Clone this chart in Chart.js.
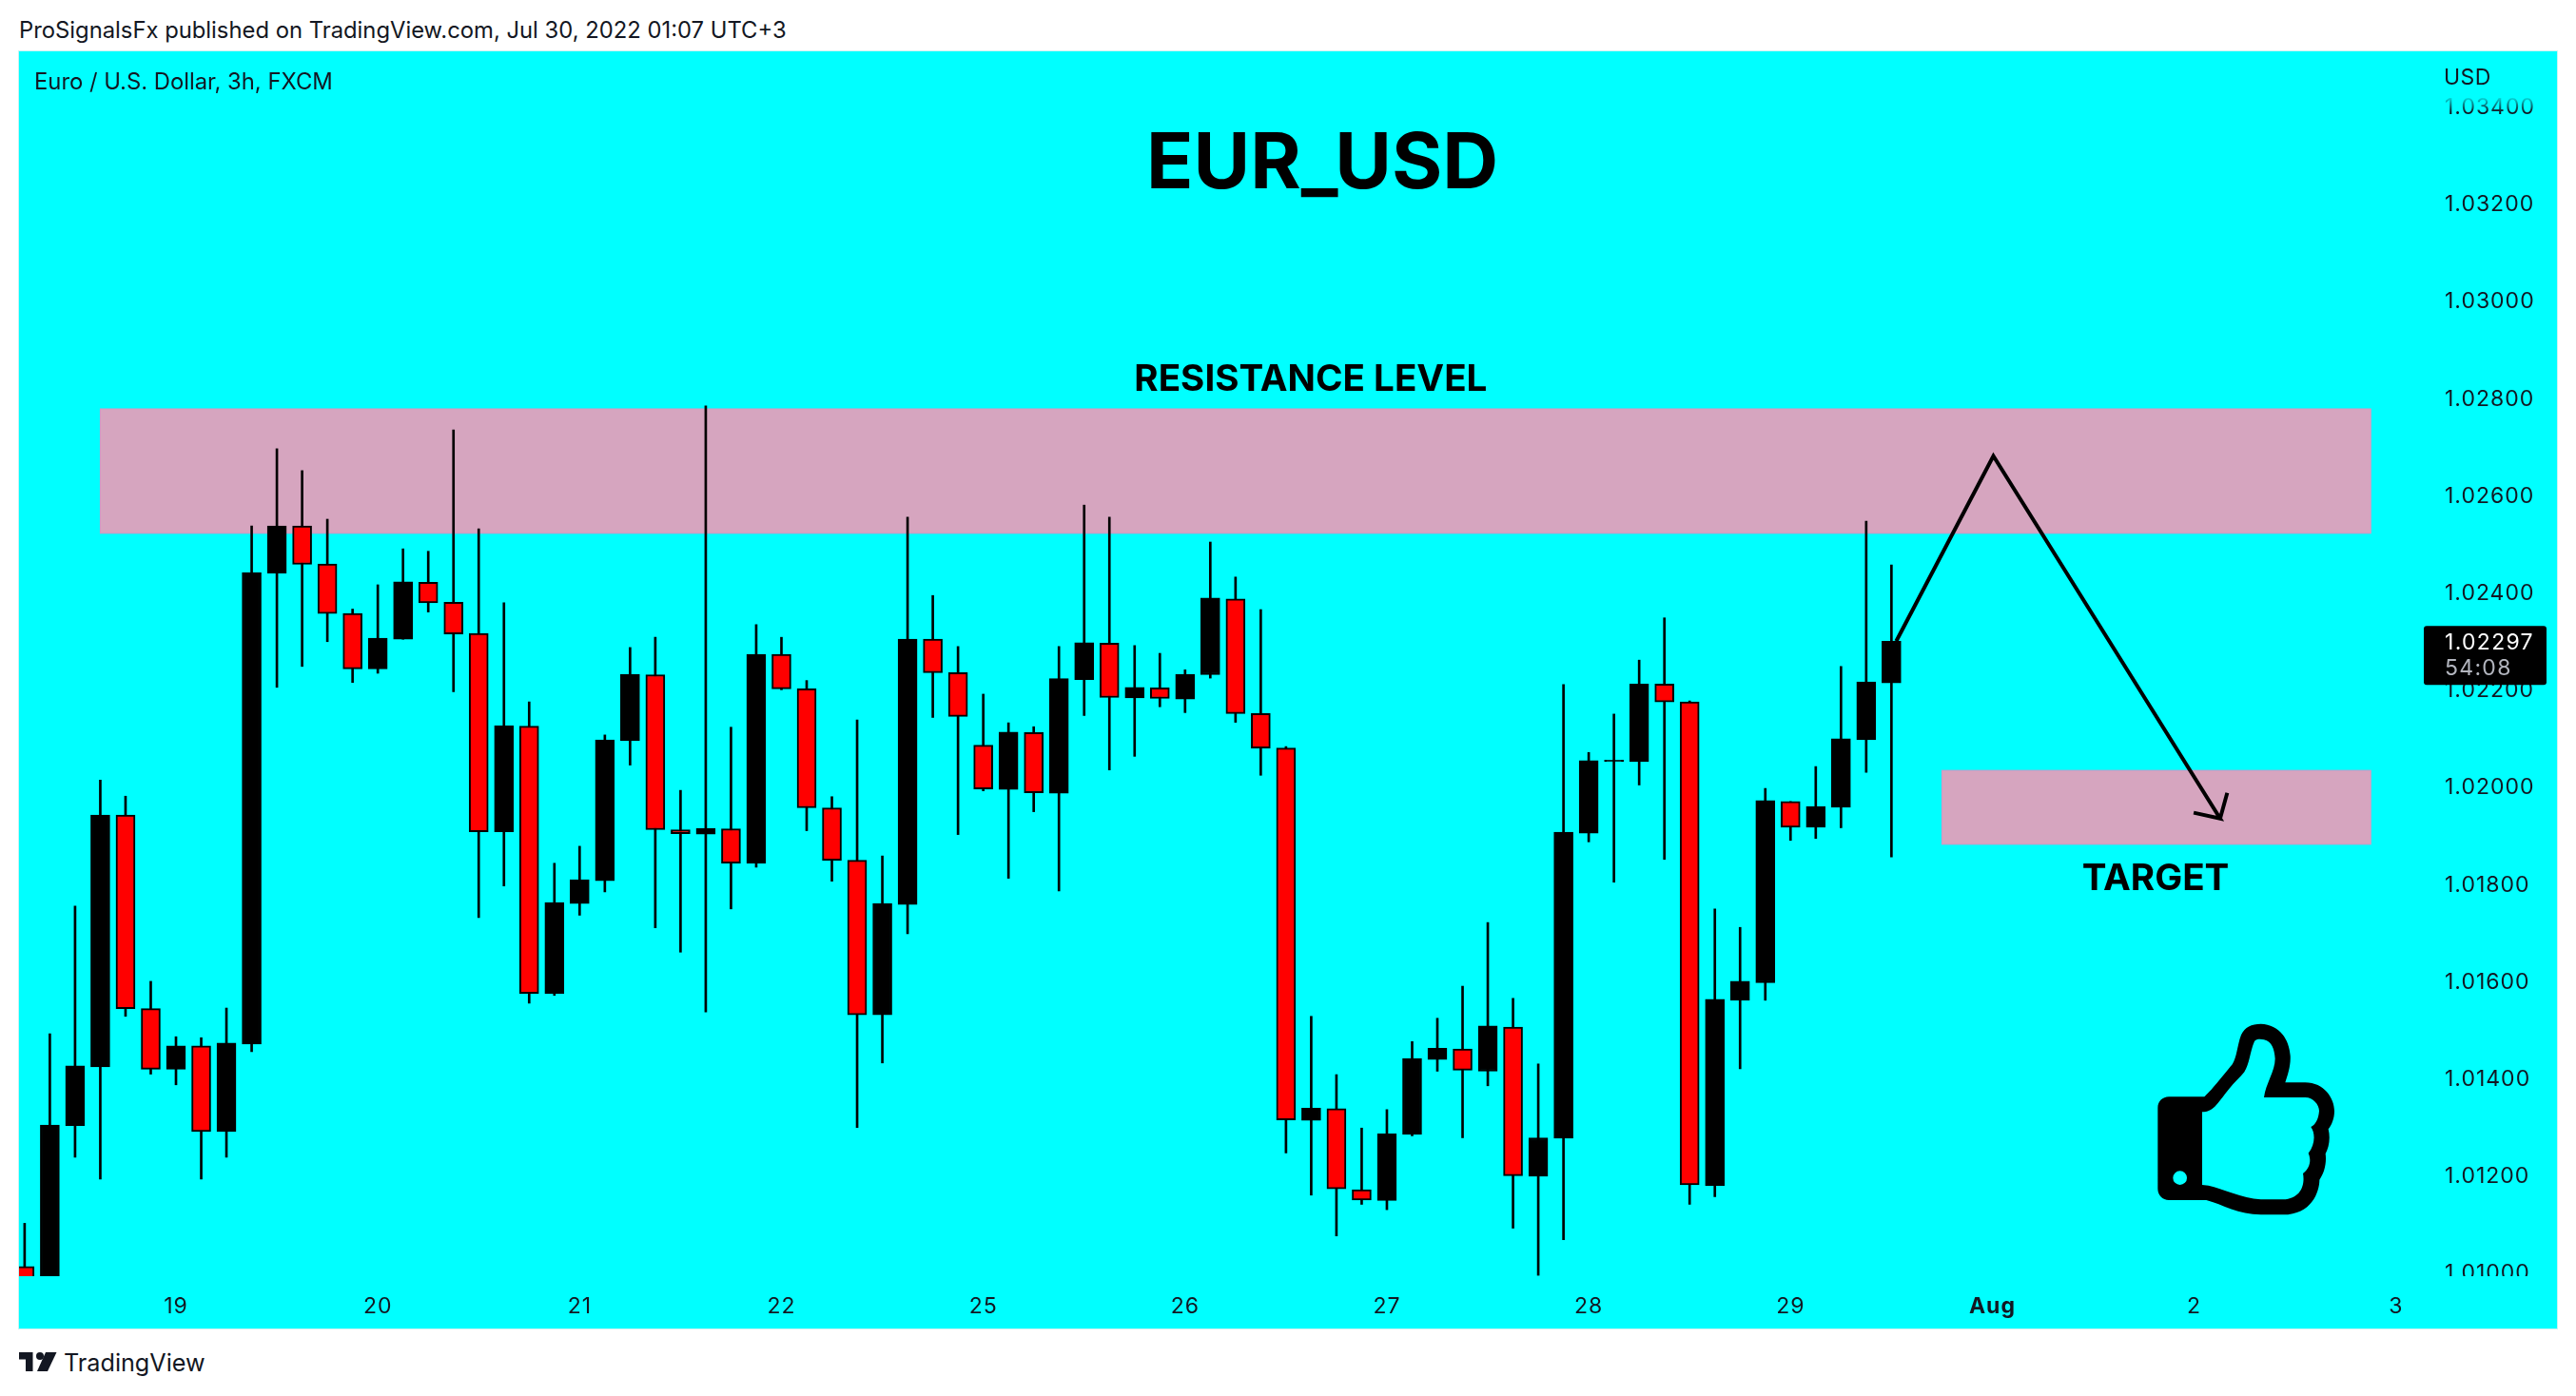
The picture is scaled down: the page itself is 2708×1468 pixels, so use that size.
<!DOCTYPE html>
<html>
<head>
<meta charset="utf-8">
<title>EUR_USD</title>
<script src="https://cdn.jsdelivr.net/npm/chart.js@4/dist/chart.umd.min.js"></script>
<style>
  html, body { margin: 0; padding: 0; background: #fff; }
  body { width: 2708px; height: 1468px; overflow: hidden; position: relative; font-family: 'Inter', sans-serif; color: #131722; }
  #chartCanvas { position: absolute; left: 20px; top: 54px; outline: 1px solid #c9f3f3; }
  .txt { position: absolute; white-space: nowrap; line-height: 1; transform: translateY(-50%); }
  svg { position: absolute; }
</style>
</head>
<body>
<div class="txt" style="left:20px;top:32px;font-size:23.8px">ProSignalsFx published on TradingView.com, Jul 30, 2022 01:07 UTC+3</div>
<canvas id="chartCanvas" width="2668" height="1343"></canvas>
<div class="txt" style="left:36px;top:86px;font-size:23.8px">Euro / U.S. Dollar, 3h, FXCM</div>
<div class="txt" style="left:2569px;top:81px;font-size:23px;letter-spacing:0.5px">USD</div>

<!-- thumbs up -->
<svg style="left:2230px;top:1050px" width="260" height="260" viewBox="0 0 780 780">
  <path fill="#000" fill-rule="evenodd" d="M150 310 L262 310 C280 295 320 245 350 208 C365 185 365 150 378 115 C390 90 410 80 440 80 C500 82 530 130 533 180 C535 210 525 240 517 265 L580 265 C640 265 672 315 672 355 C672 380 663 400 653 412 C660 440 655 470 644 490 C648 520 640 550 625 572 C625 610 600 682 510 682 L440 682 C370 682 320 650 268 636 L150 636 C130 636 115 620 115 600 L115 345 C115 325 130 310 150 310 Z
  M255 358 C290 358 300 335 340 285 C355 265 375 250 388 232 C405 205 405 170 420 135 C425 127 440 127 450 130 C475 135 483 160 485 190 C485 230 455 270 450 312 L580 312 C605 312 624 335 624 355 C622 380 612 400 598 405 C612 425 612 460 590 488 C600 510 595 535 573 552 C580 590 565 632 510 634 L440 634 C380 630 320 600 275 590 L255 588 Z
  M163 566 A22 22 0 1 0 207 566 A22 22 0 1 0 163 566 Z"/>
</svg>

<!-- footer logo -->
<svg style="left:20px;top:1421px" width="40" height="22" viewBox="0 0 40 22">
  <path fill="#131722" d="M0 1 H14.5 V21 H7 V8.5 H0 Z"/>
  <circle cx="22" cy="5" r="4" fill="#131722"/>
  <path fill="#131722" d="M28 1 H39.5 L30 21 H19 Z"/>
</svg>
<div class="txt" style="left:67px;top:1434px;font-size:25.2px">TradingView</div>

<script>
// 3h bars, weekend gap removed. Bar 0 is the first bar of the 19th
const firstBar = -6;
const opens = [1.01010, 1.00975, 1.01300, 1.01421, 1.01939, 1.01541, 1.01416, 1.01464, 1.01288, 1.01468,
  1.02437, 1.02534, 1.02456, 1.02354, 1.02240, 1.02301, 1.02418, 1.02377, 1.02313, 1.01905,
  1.02122, 1.01572, 1.01757, 1.01804, 1.02092, 1.02228, 1.01909, 1.01900, 1.01911, 1.01840,
  1.02270, 1.02199, 1.01954, 1.01846, 1.01528, 1.01755, 1.02301, 1.02232, 1.02083, 1.01992,
  1.02109, 1.01984, 1.02218, 1.02293, 1.02180, 1.02201, 1.02178, 1.02228, 1.02384, 1.02148,
  1.02077, 1.01311, 1.01335, 1.01168, 1.01146, 1.01282, 1.01436, 1.01458, 1.01412, 1.01503,
  1.01196, 1.01274, 1.01902, 1.02049, 1.02049, 1.02209, 1.02172, 1.01177, 1.01558, 1.01594,
  1.01967, 1.01914, 1.01955, 1.02094, 1.02211];
const highs = [1.01099, 1.01489, 1.01752, 1.02011, 1.01978, 1.01597, 1.01483, 1.01481, 1.01542, 1.02534,
  1.02693, 1.02648, 1.02548, 1.02363, 1.02413, 1.02487, 1.02482, 1.02732, 1.02528, 1.02376,
  1.02172, 1.01840, 1.01875, 1.02104, 1.02284, 1.02305, 1.01990, 1.02781, 1.02120, 1.02331,
  1.02305, 1.02216, 1.01977, 1.02135, 1.01855, 1.02552, 1.02391, 1.02286, 1.02188, 1.02129,
  1.02121, 1.02286, 1.02577, 1.02552, 1.02288, 1.02272, 1.02238, 1.02501, 1.02429, 1.02362,
  1.02080, 1.01525, 1.01405, 1.01295, 1.01333, 1.01473, 1.01521, 1.01587, 1.01718, 1.01562,
  1.01427, 1.02208, 1.02068, 1.02147, 1.02258, 1.02345, 1.02174, 1.01746, 1.01708, 1.01994,
  1.01967, 1.02039, 1.02245, 1.02544, 1.02454];
const lows = [1.00945, 1.00971, 1.01235, 1.01190, 1.01525, 1.01406, 1.01384, 1.01190, 1.01235, 1.01452,
  1.02202, 1.02245, 1.02296, 1.02212, 1.02231, 1.02301, 1.02357, 1.02193, 1.01728, 1.01793,
  1.01552, 1.01568, 1.01733, 1.01781, 1.02042, 1.01707, 1.01657, 1.01534, 1.01746, 1.01832,
  1.02197, 1.01907, 1.01803, 1.01296, 1.01429, 1.01695, 1.02140, 1.01899, 1.01989, 1.01809,
  1.01946, 1.01783, 1.02144, 1.02032, 1.02060, 1.02162, 1.02150, 1.02221, 1.02130, 1.02021,
  1.01244, 1.01157, 1.01073, 1.01138, 1.01127, 1.01279, 1.01412, 1.01275, 1.01382, 1.01089,
  1.00992, 1.01065, 1.01884, 1.01801, 1.02001, 1.01848, 1.01138, 1.01154, 1.01417, 1.01558,
  1.01887, 1.01891, 1.01913, 1.02027, 1.01853];
const closes = [1.00971, 1.01301, 1.01423, 1.01939, 1.01541, 1.01416, 1.01464, 1.01288, 1.01470, 1.02438,
  1.02534, 1.02455, 1.02354, 1.02240, 1.02303, 1.02419, 1.02376, 1.02312, 1.01905, 1.02123,
  1.01572, 1.01759, 1.01806, 1.02094, 1.02229, 1.01909, 1.01901, 1.01912, 1.01840, 1.02270,
  1.02199, 1.01954, 1.01846, 1.01528, 1.01757, 1.02301, 1.02232, 1.02142, 1.01993, 1.02110,
  1.01985, 1.02220, 1.02294, 1.02181, 1.02202, 1.02179, 1.02229, 1.02386, 1.02148, 1.02077,
  1.01312, 1.01336, 1.01170, 1.01147, 1.01283, 1.01438, 1.01459, 1.01414, 1.01505, 1.01197,
  1.01275, 1.01904, 1.02051, 1.02052, 1.02209, 1.02172, 1.01178, 1.01560, 1.01597, 1.01969,
  1.01914, 1.01957, 1.02096, 1.02213, 1.02297];

const dayBars = [0, 8, 16, 24, 32, 40, 48, 56, 64, 72, 80, 88];
const dayLabels = ['19', '20', '21', '22', '25', '26', '27', '28', '29', 'Aug', '2', '3'];
const priceTicks = [1.034, 1.032, 1.03, 1.028, 1.026, 1.024, 1.022, 1.02, 1.018, 1.016, 1.014, 1.012, 1.01];
const lastPrice = 1.02297;
const countdown = '54:08';

// drawings, in bar number / price
const resistanceZone = [-3, 87, 1.02775, 1.02519];
const targetZone = [70, 87, 1.02031, 1.01879];
const pathBars = [68.19, 72.04, 81.03, 79.98, 81.03, 81.31];
const pathPrices = [1.02297, 1.02678, 1.01932, 1.01944, 1.01932, 1.01985];

const barNumbers = opens.map((_, i) => firstBar + i);
const INK = '#131722';

const drawings = {
    id: 'drawings',
    beforeDraw(chart) {
        const ctx = chart.ctx;
        ctx.fillStyle = '#00ffff';
        ctx.fillRect(0, 0, chart.width, chart.height);
        ctx.letterSpacing = '1px'; // axis digits are wider than Inter's
        // price labels sit a little lower than Chart.js centres them
        const yScale = chart.scales.y;
        if (!yScale.shifted) {
            const drawLabels = yScale.drawLabels;
            yScale.drawLabels = function (area) {
                ctx.save();
                ctx.translate(0, 2.5);
                drawLabels.call(this, area);
                ctx.restore();
            };
            yScale.shifted = true;
        }
    },
    beforeDatasetsDraw(chart) {
        const { ctx, scales: { x, y } } = chart;
        [resistanceZone, targetZone].forEach(z => {
            const l = x.getPixelForValue(z[0]), r = x.getPixelForValue(z[1]);
            const t = y.getPixelForValue(z[2]), b = y.getPixelForValue(z[3]);
            ctx.fillStyle = '#d6a5bf';
            ctx.fillRect(l, t, r - l, b - t);
            ctx.strokeStyle = '#d795c4';
            ctx.lineWidth = 1;
            ctx.strokeRect(l, t, r - l, b - t);
        });
    },
    afterDraw(chart) {
        const { ctx, chartArea, scales: { x, y } } = chart;
        ctx.save();
        // price scale is cut at the time axis and fades out at the top
        ctx.fillStyle = '#00ffff';
        ctx.fillRect(chartArea.right, chartArea.bottom, chart.width - chartArea.right, chart.height - chartArea.bottom);
        const fade = ctx.createLinearGradient(0, 46, 0, 64);
        fade.addColorStop(0, 'rgba(0,255,255,1)');
        fade.addColorStop(1, 'rgba(0,255,255,0)');
        ctx.fillStyle = fade;
        ctx.fillRect(chartArea.right, 40, chart.width - chartArea.right, 24);

        ctx.letterSpacing = '0px';
        ctx.fillStyle = '#000';
        ctx.textAlign = 'center';
        ctx.textBaseline = 'middle';
        ctx.font = "bold 81.5px 'Inter', sans-serif";
        ctx.fillText('EUR_USD', x.getPixelForValue(45.44), y.getPixelForValue(1.03276));
        ctx.font = "bold 38.6px 'Inter', sans-serif";
        ctx.fillText('RESISTANCE LEVEL', x.getPixelForValue(44.98), y.getPixelForValue(1.02834));
        ctx.fillText('TARGET', x.getPixelForValue(78.47), y.getPixelForValue(1.01808));

        // last price tag
        const tagY = y.getPixelForValue(lastPrice);
        ctx.fillStyle = '#000';
        ctx.beginPath();
        ctx.roundRect(chartArea.right - 8, tagY - 16, 129, 62, 3);
        ctx.fill();
        ctx.letterSpacing = '1.3px';
        ctx.textAlign = 'left';
        ctx.font = "23px 'Inter', sans-serif";
        ctx.fillStyle = '#fff';
        ctx.fillText(lastPrice.toFixed(5), chartArea.right + 14, tagY + 1.5);
        ctx.fillStyle = '#b2b5be';
        ctx.fillText(countdown, chartArea.right + 14, tagY + 29);
        ctx.restore();
    }
};

new Chart(document.getElementById('chartCanvas'), {
    type: 'bar',
    data: {
        datasets: [
            {
                label: 'wick',
                data: barNumbers.map((b, i) => ({ x: b, y: [lows[i], highs[i]] })),
                backgroundColor: '#000',
                barThickness: 2,
                grouped: false,
                order: 3,
                clip: 0
            },
            {
                label: 'body',
                data: barNumbers.map((b, i) => ({ x: b, y: [opens[i], closes[i]] })),
                backgroundColor: closes.map((c, i) => c >= opens[i] ? '#000' : '#ff0000'),
                borderColor: '#000',
                borderWidth: 2,
                borderSkipped: false,
                barThickness: 20,
                grouped: false,
                order: 2,
                clip: 0
            },
            {
                type: 'line',
                label: 'path',
                data: pathBars.map((b, i) => ({ x: b, y: pathPrices[i] })),
                borderColor: '#000',
                borderWidth: 4,
                pointRadius: 0,
                tension: 0,
                order: 1,
                clip: 0
            }
        ]
    },
    options: {
        responsive: false,
        animation: false,
        devicePixelRatio: 1,
        layout: { padding: 0 },
        plugins: { legend: { display: false }, tooltip: { enabled: false }, title: { display: false } },
        scales: {
            x: {
                type: 'linear',
                offset: false,
                min: -6.2217,
                max: 89.404,
                grid: { display: false, drawTicks: false },
                border: { display: false },
                afterBuildTicks: s => { s.ticks = dayBars.map(v => ({ value: v })); },
                afterFit: s => { s.height = 55; s.paddingLeft = 0; s.paddingRight = 0; },
                ticks: {
                    autoSkip: false,
                    maxRotation: 0,
                    padding: 18,
                    color: INK,
                    font: c => ({ family: "'Inter', sans-serif", size: 23, weight: c.tick && c.tick.value === 72 ? 'bold' : 'normal' }),
                    callback: v => dayLabels[dayBars.indexOf(v)]
                }
            },
            y: {
                position: 'right',
                min: 1.009902,
                max: 1.035108,
                grid: { display: false, drawTicks: false },
                border: { display: false },
                afterBuildTicks: s => { s.ticks = priceTicks.map(v => ({ value: v })); },
                afterFit: s => { s.width = 132; s.paddingTop = 0; s.paddingBottom = 0; },
                ticks: {
                    autoSkip: false,
                    padding: 14,
                    color: INK,
                    font: { family: "'Inter', sans-serif", size: 23 },
                    callback: v => v.toFixed(5)
                }
            }
        }
    },
    plugins: [drawings]
});
</script>
</body>
</html>
